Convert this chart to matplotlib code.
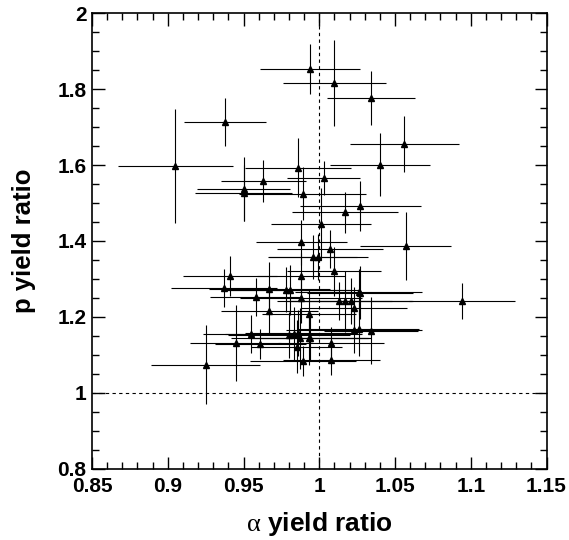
import matplotlib
matplotlib.use("Agg")
import matplotlib.pyplot as plt
from matplotlib.ticker import MultipleLocator, FuncFormatter

# data: alpha yield ratio (x), p yield ratio (y) with errors
x = [0.994, 0.938, 0.905, 1.010, 1.034, 1.056, 1.040, 1.003, 0.986, 0.963,
     0.950, 0.950, 0.989, 1.027, 1.017, 1.001, 0.988, 1.007, 0.996, 0.999,
     1.057, 1.010, 0.988, 0.941, 0.937, 0.958, 0.967, 0.978, 0.981, 0.988,
     0.967, 0.993, 1.026, 1.027, 1.013, 1.017, 1.021, 1.023, 1.094, 0.955,
     0.945, 0.961, 0.980, 0.983, 0.986, 0.987, 0.993, 0.985, 0.989, 0.925,
     1.023, 1.026, 1.034, 0.994, 1.008, 1.008]
y = [1.853, 1.713, 1.597, 1.817, 1.776, 1.656, 1.601, 1.567, 1.593, 1.558,
     1.537, 1.526, 1.525, 1.492, 1.475, 1.445, 1.396, 1.380, 1.358, 1.358,
     1.387, 1.320, 1.308, 1.308, 1.277, 1.253, 1.274, 1.272, 1.271, 1.249,
     1.215, 1.208, 1.266, 1.264, 1.241, 1.241, 1.242, 1.224, 1.242, 1.155,
     1.132, 1.128, 1.152, 1.156, 1.158, 1.143, 1.143, 1.121, 1.084, 1.074,
     1.165, 1.167, 1.163, 1.145, 1.132, 1.087]
xerr = [0.033, 0.027, 0.038, 0.034, 0.029, 0.036, 0.033, 0.024, 0.035, 0.028,
        0.031, 0.032, 0.042, 0.040, 0.035, 0.033, 0.030, 0.035, 0.029, 0.033,
        0.030, 0.031, 0.029, 0.031, 0.035, 0.030, 0.040, 0.042, 0.045, 0.040,
        0.032, 0.031, 0.042, 0.035, 0.035, 0.045, 0.040, 0.035, 0.035, 0.032,
        0.030, 0.030, 0.040, 0.045, 0.035, 0.045, 0.040, 0.030, 0.035, 0.036,
        0.045, 0.040, 0.031, 0.040, 0.035, 0.032]
yerr = [0.067, 0.064, 0.150, 0.113, 0.071, 0.074, 0.083, 0.045, 0.078, 0.055,
        0.084, 0.074, 0.070, 0.066, 0.053, 0.095, 0.060, 0.050, 0.057, 0.060,
        0.090, 0.064, 0.060, 0.053, 0.050, 0.050, 0.070, 0.060, 0.065, 0.065,
        0.060, 0.065, 0.060, 0.070, 0.050, 0.080, 0.060, 0.055, 0.047, 0.050,
        0.100, 0.040, 0.060, 0.070, 0.060, 0.080, 0.070, 0.070, 0.040, 0.104,
        0.060, 0.070, 0.088, 0.060, 0.040, 0.040]

xticks = [0.85, 0.9, 0.95, 1.0, 1.05, 1.1, 1.15]
yticks = [0.8, 1.0, 1.2, 1.4, 1.6, 1.8, 2.0]

plt.rcParams['font.family'] = ['Liberation Sans', 'DejaVu Sans']
plt.rcParams['mathtext.fontset'] = 'custom'
plt.rcParams['mathtext.rm'] = 'Liberation Serif'

fig = plt.figure(figsize=(5.69, 5.40), dpi=100)
ax = fig.add_axes([0.1617, 0.1322, 0.9605 - 0.1617, 0.9754 - 0.1322])

ax.axvline(1.0, color='black', lw=0.8, ls=(0, (3, 3)), zorder=1)
ax.axhline(1.0, color='black', lw=0.8, ls=(0, (3, 3)), zorder=1)

ax.errorbar(x, y, xerr=xerr, yerr=yerr, fmt='^', color='black', ms=3.8,
            elinewidth=0.8, capsize=0, zorder=3)

ax.set_xlim(0.85, 1.15)
ax.set_ylim(0.8, 2.0)
ax.set_xticks(xticks)
ax.set_yticks(yticks)
ax.xaxis.set_minor_locator(MultipleLocator(0.01))
ax.yaxis.set_minor_locator(MultipleLocator(0.05))

def fmt(v, pos):
    return f"{v:.2f}".rstrip('0').rstrip('.')
ax.xaxis.set_major_formatter(FuncFormatter(fmt))
ax.yaxis.set_major_formatter(FuncFormatter(fmt))

ax.tick_params(which='both', direction='in', top=True, right=True, width=1.0)
ax.tick_params(which='major', length=9)
ax.tick_params(which='minor', length=5)
ax.tick_params(axis='x', which='major', pad=6)
ax.tick_params(axis='y', which='major', pad=4)
for lab in ax.get_xticklabels() + ax.get_yticklabels():
    lab.set_fontweight('bold')
    lab.set_fontsize(15)
for sp in ax.spines.values():
    sp.set_linewidth(1.2)

fig.text(319 / 569, 1 - 531 / 540, r'$\mathrm{\alpha}$ yield ratio', fontsize=19,
         fontweight='bold', ha='center', va='baseline')
ax.set_ylabel('p yield ratio', fontsize=18.5, fontweight='bold', labelpad=15)

fig.savefig('out.png', dpi=100)
